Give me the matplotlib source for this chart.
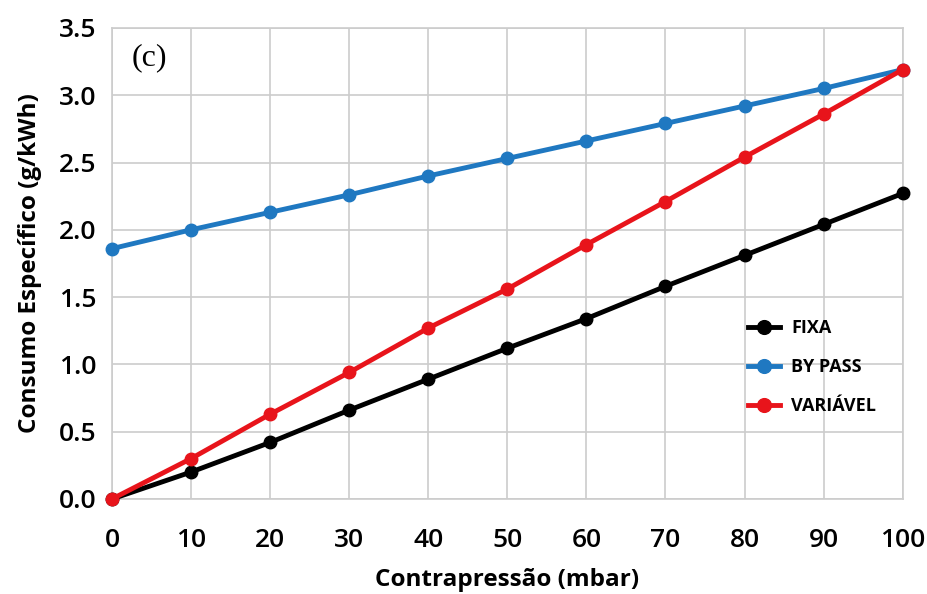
import matplotlib.pyplot as plt

contrapressao = [0, 10, 20, 30, 40, 50, 60, 70, 80, 90, 100]
fixa = [0.0, 0.20, 0.42, 0.66, 0.89, 1.12, 1.34, 1.58, 1.81, 2.04, 2.27]
by_pass = [1.86, 2.00, 2.13, 2.26, 2.40, 2.53, 2.66, 2.79, 2.92, 3.05, 3.19]
variavel = [0.0, 0.30, 0.63, 0.94, 1.27, 1.56, 1.89, 2.21, 2.54, 2.86, 3.19]

series = [
    ('FIXA', fixa, '#000000'),
    ('BY PASS', by_pass, '#1f78c1'),
    ('VARIÁVEL', variavel, '#e8141b'),
]

plt.rcParams['font.family'] = ['Open Sans', 'DejaVu Sans']

fig = plt.figure(figsize=(9.28, 5.94), dpi=100)
ax = fig.add_axes([0.1207, 0.160, 0.852, 0.793])

for label, values, color in series:
    ax.plot(contrapressao, values, color=color, linewidth=3.5, marker='o',
            markersize=9, label=label, clip_on=False, zorder=3)

ax.set_xlim(0, 100)
ax.set_ylim(0, 3.5)
ax.set_xticks(contrapressao)
ax.set_yticks([0, 0.5, 1.0, 1.5, 2.0, 2.5, 3.0, 3.5])
ax.set_yticklabels([f'{v:.1f}' for v in ax.get_yticks()])
ax.tick_params(axis='both', labelsize=19, length=0)
ax.tick_params(axis='x', pad=21)
ax.tick_params(axis='y', pad=11)
for lbl in ax.get_xticklabels() + ax.get_yticklabels():
    lbl.set_fontweight('semibold')

ax.grid(True, color='#cccccc', linewidth=1.2)
for spine in ax.spines.values():
    spine.set_color('#cccccc')
    spine.set_linewidth(1.2)

ax.set_xlabel('Contrapressão (mbar)', fontsize=17.5, fontweight='bold', labelpad=11)
ax.set_ylabel('Consumo Específico (g/kWh)', fontsize=17.5, fontweight='bold', labelpad=12)

ax.text(0.025, 0.936, '(c)', transform=ax.transAxes, fontsize=23,
        family=['Liberation Serif', 'DejaVu Serif'], va='center')

ax.legend(loc='center left', bbox_to_anchor=(0.804, 0.28), frameon=False,
          prop={'weight': 'bold', 'size': 13}, borderpad=0, borderaxespad=0,
          handlelength=1.8, handletextpad=0.6, labelspacing=1.15, markerscale=1.1)

plt.savefig('out.png', dpi=100)
